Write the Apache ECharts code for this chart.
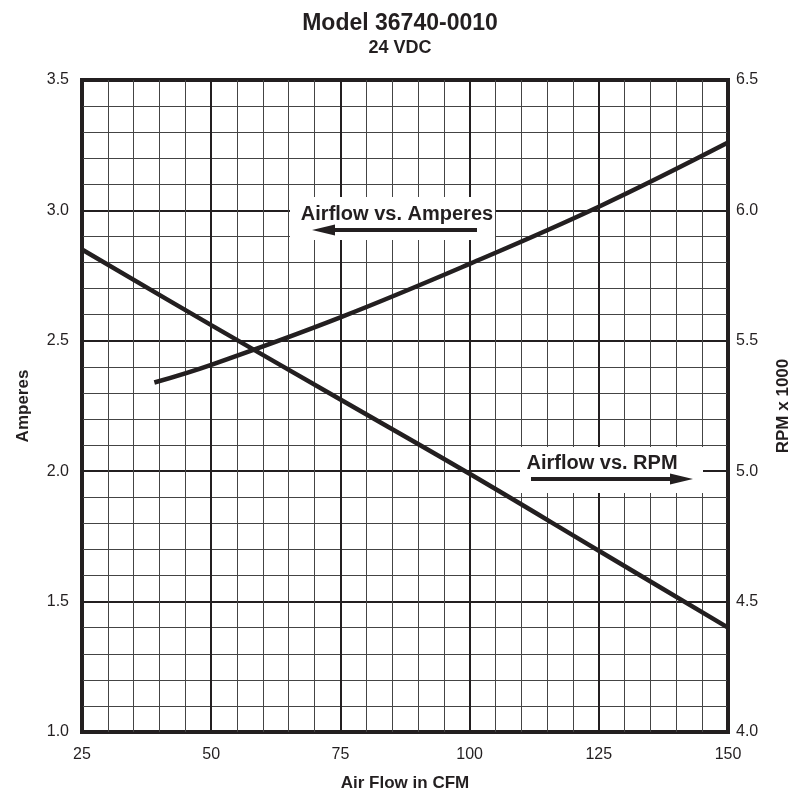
<!DOCTYPE html>
<html>
<head>
<meta charset="utf-8">
<title>Model 36740-0010</title>
<script src="https://cdn.jsdelivr.net/npm/echarts@6/dist/echarts.min.js"></script>
<style>
  html, body { margin: 0; padding: 0; background: #fff; }
  #chart { width: 800px; height: 800px; }
</style>
</head>
<body>
<div id="chart"></div>
<script>
// values
const ampCfm = [39, 50, 75, 100, 125, 150];
const ampValues = [2.34, 2.408, 2.59, 2.795, 3.014, 3.26];
const rpmCfm = [25, 50, 75, 100, 125, 150];
const rpmValues = [5.85, 5.56, 5.275, 4.99, 4.695, 4.40];

const cfmTicks = [25, 50, 75, 100, 125, 150];
const ampTicks = [1.0, 1.5, 2.0, 2.5, 3.0, 3.5];
const rpmTicks = [4.0, 4.5, 5.0, 5.5, 6.0, 6.5];

const ink = '#231f20';
const font = 'Liberation Sans, Arial, Helvetica, sans-serif';

let myChart = echarts.init(document.getElementById('chart'));

function valueAxis (ticks, extra) {
  return Object.assign({
    type: 'value',
    min: ticks[0],
    max: ticks[ticks.length - 1],
    interval: ticks[1] - ticks[0],
    axisLine: { show: false },
    axisTick: { show: false },
    minorTick: { show: false, splitNumber: 5 },
    splitLine: { show: true, lineStyle: { color: ink, width: 2 } },
    minorSplitLine: { show: true, lineStyle: { color: '#444', width: 1 } },
    nameTextStyle: { color: ink, fontFamily: font, fontSize: 17, fontWeight: 'bold' }
  }, extra)
}

let option = {
  animation: false,
  title: {
    text: 'Model 36740-0010',
    subtext: '24 VDC',
    left: 'center',
    top: 7,
    itemGap: 4,
    textStyle: { color: ink, fontFamily: font, fontSize: 23, fontWeight: 'bold' },
    subtextStyle: { color: ink, fontFamily: font, fontSize: 18, fontWeight: 'bold' }
  },
  grid: {
    left: 82,
    right: 72,
    top: 80,
    bottom: 68,
    outerBoundsMode: 'none',
    containLabel: false,
    show: true,
    borderColor: ink,
    borderWidth: 4,
    backgroundColor: 'transparent'
  },
  xAxis: valueAxis(cfmTicks, {
    name: 'Air Flow in CFM',
    nameLocation: 'middle',
    nameGap: 43,
    axisLabel: { color: ink, fontFamily: font, fontSize: 16, margin: 15 }
  }),
  yAxis: [
    valueAxis(ampTicks, {
      name: 'Amperes',
      nameLocation: 'middle',
      nameGap: 50,
      nameRotate: 90,
      position: 'left',
      axisLabel: {
        color: ink, fontFamily: font, fontSize: 16, margin: 13,
        formatter: v => v.toFixed(1)
      }
    }),
    valueAxis(rpmTicks, {
      name: 'RPM x 1000',
      nameLocation: 'middle',
      nameGap: 47,
      nameRotate: 90,
      position: 'right',
      splitLine: { show: false },
      minorSplitLine: { show: false },
      axisLabel: {
        color: ink, fontFamily: font, fontSize: 16, margin: 8,
        formatter: v => v.toFixed(1)
      }
    })
  ],
  series: [
    {
      name: 'Airflow vs. Amperes',
      type: 'line',
      yAxisIndex: 0,
      smooth: 0.4,
      showSymbol: false,
      lineStyle: { color: ink, width: 4.5 },
      data: ampCfm.map((c, i) => [c, ampValues[i]])
    },
    {
      name: 'Airflow vs. RPM',
      type: 'line',
      yAxisIndex: 1,
      smooth: 0.4,
      showSymbol: false,
      lineStyle: { color: ink, width: 4.5 },
      data: rpmCfm.map((c, i) => [c, rpmValues[i]])
    }
  ],
  // the two labelled arrows, on white patches over the grid
  graphic: [
    { type: 'rect', z: 1, shape: { x: 290, y: 197, width: 205, height: 43 }, style: { fill: '#fff' } },
    {
      type: 'text', z: 3, x: 397, y: 214,
      style: { text: 'Airflow vs. Amperes', font: 'bold 20px ' + font, fill: ink, align: 'center', verticalAlign: 'middle' }
    },
    { type: 'line', z: 3, shape: { x1: 330, y1: 230, x2: 477, y2: 230 }, style: { stroke: ink, lineWidth: 4 } },
    { type: 'polygon', z: 3, shape: { points: [[312, 230], [335, 224.5], [335, 235.5]] }, style: { fill: ink } },

    { type: 'rect', z: 1, shape: { x: 520, y: 447, width: 183, height: 46 }, style: { fill: '#fff' } },
    {
      type: 'text', z: 3, x: 602, y: 463,
      style: { text: 'Airflow vs. RPM', font: 'bold 20px ' + font, fill: ink, align: 'center', verticalAlign: 'middle' }
    },
    { type: 'line', z: 3, shape: { x1: 531, y1: 479, x2: 672, y2: 479 }, style: { stroke: ink, lineWidth: 4 } },
    { type: 'polygon', z: 3, shape: { points: [[693, 479], [670, 473.5], [670, 484.5]] }, style: { fill: ink } }
  ]
}

myChart.setOption(option, true)
</script>
</body>
</html>
